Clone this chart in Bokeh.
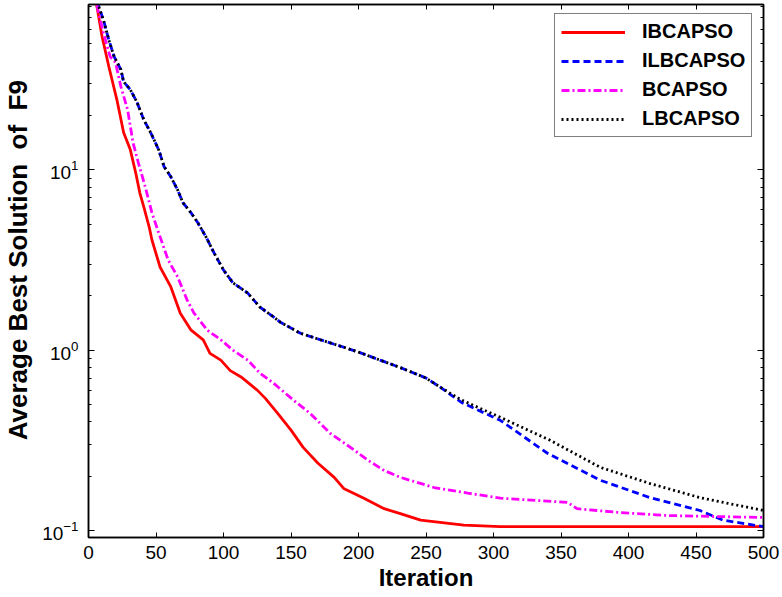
from bokeh.plotting import figure
from bokeh.models import (Range1d, LinearAxis, LogAxis, Legend, LegendItem,
                          FixedTicker, LogTicker, CustomLabelingPolicy)
from bokeh.embed import file_html
from bokeh.resources import INLINE

# ---------------- data ----------------
x_ticks = [0, 50, 100, 150, 200, 250, 300, 350, 400, 450, 500]

ibcapso_it = [1, 6, 10, 15, 21, 26, 31, 35, 38, 41, 45, 47, 53, 61, 68, 76, 85, 90,
              98, 105, 113, 125, 131, 140, 150, 159, 170, 182, 189, 204, 219, 231,
              246, 278, 305, 500]
ibcapso_val = [150, 82.6, 55, 37.5, 24.5, 16.1, 12.9, 9.6, 7.45, 6.2, 4.8, 4.08, 2.89,
               2.24, 1.6, 1.29, 1.14, 0.96, 0.88, 0.77, 0.71, 0.60, 0.54, 0.447, 0.36,
               0.289, 0.236, 0.197, 0.171, 0.151, 0.132, 0.124, 0.114, 0.107, 0.105,
               0.105]

lbcapso_it = [1, 7, 11, 15, 19, 24, 26, 31, 36, 41, 46, 52, 56, 61, 66, 70, 76, 81, 87,
              93, 100, 107, 118, 127, 137, 142, 157, 172, 187, 200, 216, 231, 250, 261,
              276, 305, 342, 379, 416, 453, 500]
lbcapso_val = [150, 82.6, 68, 52.7, 42.4, 35.9, 30.8, 27.8, 23.6, 18.9, 16.1, 12.9, 10.4,
               9.14, 7.74, 6.56, 5.77, 5.08, 4.25, 3.46, 2.78, 2.36, 2.07, 1.73, 1.53,
               1.43, 1.24, 1.14, 1.05, 0.975, 0.88, 0.80, 0.70, 0.62, 0.53, 0.424, 0.316,
               0.224, 0.182, 0.152, 0.129]

ilbcapso_it = [1, 7, 11, 15, 19, 24, 26, 31, 36, 41, 46, 52, 56, 61, 66, 70, 76, 81, 87,
               93, 100, 107, 118, 127, 137, 142, 157, 172, 187, 200, 216, 231, 250, 261,
               276, 305, 340, 379, 416, 453, 470, 500]
ilbcapso_val = [150, 82.6, 68, 52.7, 42.4, 35.9, 30.8, 27.8, 23.6, 18.9, 16.1, 12.9, 10.4,
                9.14, 7.74, 6.56, 5.77, 5.08, 4.25, 3.46, 2.78, 2.36, 2.07, 1.73, 1.53,
                1.43, 1.24, 1.14, 1.05, 0.975, 0.88, 0.80, 0.70, 0.62, 0.514, 0.408,
                0.268, 0.19, 0.152, 0.129, 0.114, 0.105]

bcapso_it = [1, 6, 11, 16, 20, 24, 29, 33, 37, 42, 47, 52, 59, 66, 73, 78, 88, 98, 107,
             118, 127, 137, 152, 164, 179, 194, 207, 219, 231, 256, 281, 305, 355, 362,
             392, 429, 500]
bcapso_val = [150, 82.6, 57.7, 42.4, 39.3, 28.9, 21.5, 14.1, 10.9, 8.05, 5.77, 4.47, 3.16,
              2.55, 1.90, 1.61, 1.29, 1.14, 1.0, 0.88, 0.745, 0.656, 0.527, 0.447, 0.346,
              0.289, 0.245, 0.215, 0.197, 0.173, 0.161, 0.151, 0.143, 0.132, 0.126,
              0.121, 0.118]

FONT = "Liberation Sans"

p = figure(width=780, height=596, output_backend="svg", toolbar_location=None,
           y_axis_type="log", x_range=Range1d(0, 500), y_range=Range1d(0.0914, 82.5),
           min_border_left=88, min_border_right=17, min_border_top=2,
           min_border_bottom=59)
p.xgrid.visible = False
p.ygrid.visible = False
p.outline_line_color = "black"
p.outline_line_width = 1.5
p.background_fill_color = "white"
p.border_fill_color = "white"

r_red = p.line(ibcapso_it, ibcapso_val, line_color="#ff0000", line_width=2.8)
r_blue = p.line(ilbcapso_it, ilbcapso_val, line_color="#0000ff", line_width=2.8,
                line_dash="7 4")
r_mag = p.line(bcapso_it, bcapso_val, line_color="#ff00ff", line_width=2.8,
               line_dash="8 3 2 3")
r_blk = p.line(lbcapso_it, lbcapso_val, line_color="#000000", line_width=2.8,
               line_dash="2 3")

# bottom axis
xa = p.xaxis[0]
xa.ticker = FixedTicker(ticks=x_ticks)
xa.axis_label = "Iteration"
xa.axis_label_text_font = FONT
xa.axis_label_text_font_style = "bold"
xa.axis_label_text_font_size = "24px"
xa.axis_label_text_color = "black"
xa.axis_label_standoff = 2
xa.major_label_text_font = FONT
xa.major_label_text_font_size = "19px"
xa.major_label_text_color = "black"
xa.major_label_standoff = 8
xa.major_tick_in = 5
xa.major_tick_out = 0
xa.minor_tick_line_color = None
xa.axis_line_width = 1.5

# left axis (leading no-break spaces nudge the label upward, as in the reference)
ya = p.yaxis[0]
ya.ticker = LogTicker(num_minor_ticks=10)
ya.axis_label = "\u00a0\u00a0\u00a0Average Best Solution \u00a0of \u00a0F9"
ya.axis_label_text_font = FONT
ya.axis_label_text_font_style = "bold"
ya.axis_label_text_font_size = "26px"
ya.axis_label_text_color = "black"
ya.axis_label_standoff = 6
ya.major_label_text_font = FONT
ya.major_label_text_font_size = "19px"
ya.major_label_text_color = "black"
ya.major_label_standoff = 10
ya.major_tick_in = 6
ya.major_tick_out = 0
ya.minor_tick_in = 3
ya.minor_tick_out = 0
ya.axis_line_width = 1.5

# top and right axes (ticks only, no labels)
top = LinearAxis(ticker=FixedTicker(ticks=x_ticks),
                 major_label_policy=CustomLabelingPolicy(code="return []"),
                 major_label_text_font_size="1px", major_label_standoff=0,
                 major_tick_in=5, major_tick_out=0,
                 minor_tick_line_color=None, axis_line_width=1.5)
p.add_layout(top, "above")
right = LogAxis(ticker=LogTicker(num_minor_ticks=10),
                major_label_policy=CustomLabelingPolicy(code="return []"),
                major_label_text_font_size="1px", major_label_standoff=0,
                major_tick_in=6, major_tick_out=0,
                minor_tick_in=3, minor_tick_out=0, axis_line_width=1.5)
p.add_layout(right, "right")

legend = Legend(items=[LegendItem(label="IBCAPSO", renderers=[r_red]),
                       LegendItem(label="ILBCAPSO", renderers=[r_blue]),
                       LegendItem(label="BCAPSO", renderers=[r_mag]),
                       LegendItem(label="LBCAPSO", renderers=[r_blk])],
                location=(466, 400), margin=0, padding=6, spacing=6,
                glyph_width=64, glyph_height=22, label_height=22, label_standoff=17,
                label_text_font=FONT, label_text_font_style="bold",
                label_text_font_size="20px", label_text_color="black",
                border_line_color="black",
                border_line_width=1.2, background_fill_alpha=1.0)
p.add_layout(legend, "center")

open("out.html", "w").write(file_html(p, INLINE))
